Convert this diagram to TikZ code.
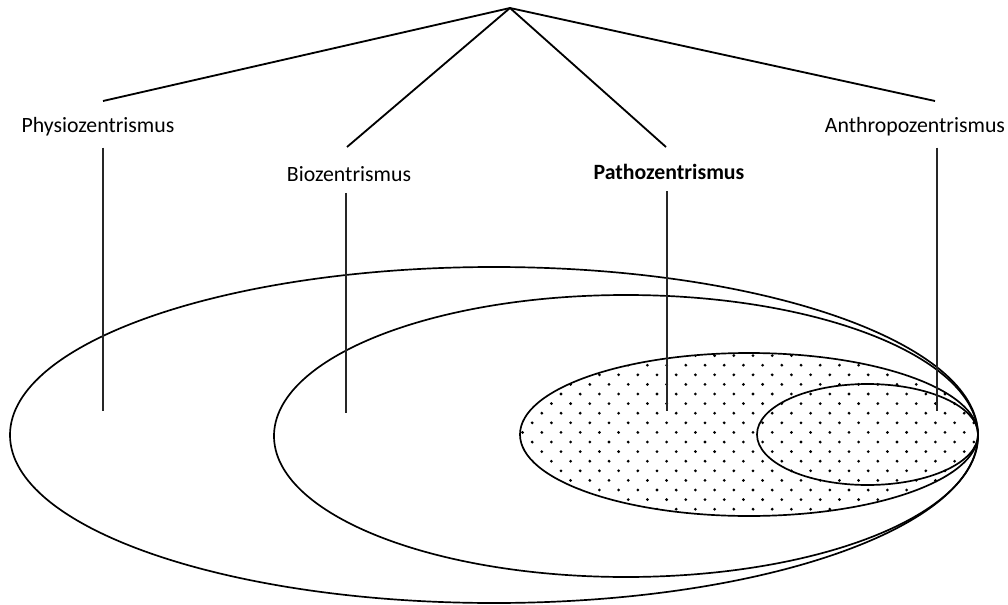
\documentclass[tikz,border=0pt]{standalone}
\usepackage{fontspec}
\setmainfont{Carlito}
\usetikzlibrary{positioning, calc}

\begin{document}
\begin{tikzpicture}[
  x=0.025cm, y=-0.025cm,
  % ---- styles ----
  label/.style = {font=\fontsize{15.5}{18}\selectfont, inner sep=0pt, anchor=center},
  branch/.style = {line width=1.3pt, black},
  stem/.style = {line width=1pt, black!85},
  circle line/.style = {line width=1.2pt, black},
  dotmark/.style = {fill=black}
]
\useasboundingbox (0,0) rectangle (1008,605);

% ============ SETS ============

% --- dotted area (Pathozentrismus) ---
\begin{scope}
  \clip (749,434.5) ellipse [x radius=229, y radius=81.5];
  \foreach \j in {0,...,18} {
    \foreach \i in {0,...,25} {
      \fill[dotmark] ({513+19.2*\i+9.6*mod(\j,2)},{346+9.6*\j}) circle (1.1pt);
    }
  }
\end{scope}

\draw[circle line] (494,435) ellipse [x radius=484, y radius=168];
\draw[circle line] (626,436) ellipse [x radius=352, y radius=141];
\draw[circle line] (749,434.5) ellipse [x radius=229, y radius=81.5];
\draw[circle line] (867.5,434.5) ellipse [x radius=110.5, y radius=50.5];

% ============ LABELS ============

\node[label] (physio) at (98,127) {Physiozentrismus};
\node[label] (bio) at (349,174) {Biozentrismus};
\node[label, font=\fontsize{15.5}{18}\selectfont\bfseries] (patho) at (669,172) {Pathozentrismus};
\node[label] (anthro) at (915,127) {Anthropozentrismus};

% ============ POINTS ============

\coordinate (apex) at (510,8);
\coordinate (physio top) at (103,101);
\coordinate (bio top) at (347,147);
\coordinate (patho top) at (666,147);
\coordinate (anthro top) at (935,101);

\coordinate (physio in) at (103,411);
\coordinate (bio in) at (346,413);
\coordinate (patho in) at (667,411);
\coordinate (anthro in) at (937,411);

% ============ BRANCHES ============

\draw[branch] (apex) -- (physio top);
\draw[branch] (apex) -- (bio top);
\draw[branch] (apex) -- (patho top);
\draw[branch] (apex) -- (anthro top);

% label -- inside its set
\draw[stem] (physio.south -| physio in) ++(0,11) -- (physio in);
\draw[stem] (bio.south -| bio in) ++(0,11) -- (bio in);
\draw[stem] (patho.south -| patho in) ++(0,11) -- (patho in);
\draw[stem] (anthro.south -| anthro in) ++(0,11) -- (anthro in);

\end{tikzpicture}
\end{document}
